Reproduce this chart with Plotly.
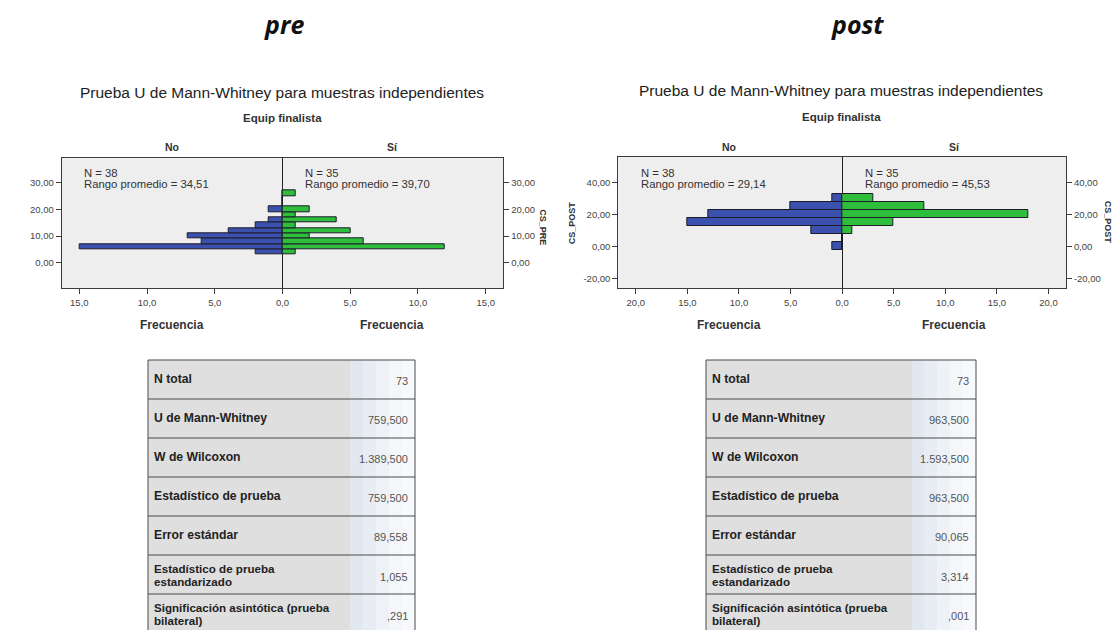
import plotly.graph_objects as go

W, H = 1115, 630

# ---------------- data ----------------
pre_bins = [4, 6, 8, 10, 12, 14, 16, 18, 20, 22, 24, 26]
pre_no = [2, 15, 6, 7, 4, 2, 1, 0, 1, 0, 0, 0]
pre_si = [1, 12, 6, 2, 5, 1, 4, 1, 2, 0, 0, 1]
pre_bin_width = 2

post_bins = [0, 5, 10, 15, 20, 25, 30]
post_no = [1, 0, 3, 15, 13, 5, 1]
post_si = [0, 0, 1, 5, 18, 8, 3]
post_bin_width = 5

group_n = ["N = 38", "N = 35"]
pre_rank = ["Rango promedio = 34,51", "Rango promedio = 39,70"]
post_rank = ["Rango promedio = 29,14", "Rango promedio = 45,53"]

pre_x_tickvals = [-15, -10, -5, 0, 5, 10, 15]
pre_x_ticktext = ["15,0", "10,0", "5,0", "0,0", "5,0", "10,0", "15,0"]
pre_y_tickvals = [0, 10, 20, 30]
pre_y_ticktext = ["0,00", "10,00", "20,00", "30,00"]
post_x_tickvals = [-20, -15, -10, -5, 0, 5, 10, 15, 20]
post_x_ticktext = ["20,0", "15,0", "10,0", "5,0", "0,0", "5,0", "10,0", "15,0", "20,0"]
post_y_tickvals = [-20, 0, 20, 40]
post_y_ticktext = ["-20,00", "0,00", "20,00", "40,00"]

table_labels = [
    "N total",
    "U de Mann-Whitney",
    "W de Wilcoxon",
    "Estadístico de prueba",
    "Error estándar",
    "Estadístico de prueba<br>estandarizado",
    "Significación asintótica (prueba<br>bilateral)",
]
pre_table_values = ["73", "759,500", "1.389,500", "759,500", "89,558", "1,055", ",291"]
post_table_values = ["73", "963,500", "1.593,500", "963,500", "90,065", "3,314", ",001"]

# ---------------- style ----------------
FONT = "Liberation Sans"
BLUE = "#3c50ad"
GREEN = "#2fbe3c"
EDGE = "#1c1c2a"
AX = "#3a3a3a"
TICKF = dict(family=FONT, size=9.5, color="#444444")


def px(x):
    return x / W


def py(y):
    return 1 - y / H


fig = go.Figure()

# pre histogram
fig.add_trace(go.Bar(orientation="h", y=pre_bins, x=[-v for v in pre_no], width=pre_bin_width,
                     marker=dict(color=BLUE, line=dict(color=EDGE, width=1)),
                     xaxis="x", yaxis="y", showlegend=False, hoverinfo="skip"))
fig.add_trace(go.Bar(orientation="h", y=pre_bins, x=pre_si, width=pre_bin_width,
                     marker=dict(color=GREEN, line=dict(color=EDGE, width=1)),
                     xaxis="x", yaxis="y", showlegend=False, hoverinfo="skip"))
fig.add_trace(go.Scatter(x=[0], y=[0], mode="markers", marker=dict(opacity=0),
                         xaxis="x", yaxis="y2", showlegend=False, hoverinfo="skip"))

# post histogram
fig.add_trace(go.Bar(orientation="h", y=post_bins, x=[-v for v in post_no], width=post_bin_width,
                     marker=dict(color=BLUE, line=dict(color=EDGE, width=1)),
                     xaxis="x2", yaxis="y3", showlegend=False, hoverinfo="skip"))
fig.add_trace(go.Bar(orientation="h", y=post_bins, x=post_si, width=post_bin_width,
                     marker=dict(color=GREEN, line=dict(color=EDGE, width=1)),
                     xaxis="x2", yaxis="y3", showlegend=False, hoverinfo="skip"))
fig.add_trace(go.Scatter(x=[0], y=[0], mode="markers", marker=dict(opacity=0),
                         xaxis="x2", yaxis="y4", showlegend=False, hoverinfo="skip"))


def xax(domain, rng, tv, tt, anchor):
    return dict(domain=domain, range=rng, tickvals=tv, ticktext=tt, ticks="outside", ticklen=5,
                tickcolor=AX, showline=True, linecolor=AX, linewidth=1, mirror=True, showgrid=False,
                zeroline=True, zerolinecolor="#222222", zerolinewidth=1, anchor=anchor,
                tickfont=TICKF, fixedrange=True)


def yax(domain, rng, tv, tt, anchor, side="left", overlaying=None):
    d = dict(range=rng, tickvals=tv, ticktext=tt, ticks="outside", ticklen=5, tickcolor=AX,
             showgrid=False, zeroline=False, anchor=anchor, side=side, tickfont=TICKF, fixedrange=True)
    if overlaying:
        d["overlaying"] = overlaying
        d["showline"] = False
    else:
        d.update(domain=domain, showline=True, linecolor=AX, linewidth=1, mirror=True)
    return d


pre_dom_x = [px(61.7), px(503.3)]
pre_dom_y = [py(288.3), py(158.3)]
post_dom_x = [px(618.3), px(1066)]
post_dom_y = [py(288.3), py(157)]
pre_yr = [-9.6, 39.15]
post_yr = [-26.2, 55.9]

fig.update_layout(
    width=W, height=H, margin=dict(l=0, r=0, t=0, b=0),
    paper_bgcolor="white", plot_bgcolor="#eeeeee",
    barmode="overlay", bargap=0,
    xaxis=xax(pre_dom_x, [-16.3, 16.3], pre_x_tickvals, pre_x_ticktext, "y"),
    yaxis=yax(pre_dom_y, pre_yr, pre_y_tickvals, pre_y_ticktext, "x"),
    yaxis2=yax(pre_dom_y, pre_yr, pre_y_tickvals, pre_y_ticktext, "x", side="right", overlaying="y"),
    xaxis2=xax(post_dom_x, [-21.7, 21.7], post_x_tickvals, post_x_ticktext, "y3"),
    yaxis3=yax(post_dom_y, post_yr, post_y_tickvals, post_y_ticktext, "x2"),
    yaxis4=yax(post_dom_y, post_yr, post_y_tickvals, post_y_ticktext, "x2", side="right", overlaying="y3"),
)

anns = []


def ann(text, x, y, size, color="#222222", xanchor="center", yanchor="middle", angle=0, family=FONT):
    anns.append(dict(text=text, x=px(x), y=py(y), xref="paper", yref="paper", showarrow=False,
                     xanchor=xanchor, yanchor=yanchor, textangle=angle, align="left",
                     font=dict(family=family, size=size, color=color)))


# big titles
ann("<b><i>pre</i></b>", 284, 24, 25, color="#111111", family="Open Sans")
ann("<b><i>post</i></b>", 857, 24, 25, color="#111111", family="Open Sans")

# chart titles
for cx, ty, sy, cols, ncx, ranks in [
    (282, 92, 118.3, (172, 392), (81.7, 303.3), pre_rank),
    (841, 90.5, 116.7, (728.5, 954), (639, 863.3), post_rank),
]:
    ann("Prueba U de Mann-Whitney para muestras independientes", cx, ty, 15.5, color="#222222")
    ann("<b>Equip finalista</b>", cx, sy, 11.5, color="#333333")
    ann("<b>No</b>", cols[0], 146.5, 10.5, color="#333333")
    ann("<b>Sí</b>", cols[1], 146.5, 10.5, color="#333333")
    ann("<b>Frecuencia</b>", cols[0], 325, 12, color="#333333")
    ann("<b>Frecuencia</b>", cols[1], 325, 12, color="#333333")
    for i in range(2):
        ann(group_n[i], ncx[i], 173, 11.3, color="#333333", xanchor="left")
        ann(ranks[i], ncx[i], 184, 11.3, color="#333333", xanchor="left")

ann("<b>CS_PRE</b>", 542.7, 227, 9, color="#333333", angle=90)
ann("<b>CS_POST</b>", 572.3, 223, 9, color="#333333", angle=-90)
ann("<b>CS_POST</b>", 1108.3, 222, 9, color="#333333", angle=90)

# tables
shapes = []
row_top = 360
row_h = 39
n_rows = len(table_labels)
for (x0, xm, x1, vals) in [(148, 350, 415, pre_table_values), (706, 912, 976, post_table_values)]:
    y_bot = row_top + n_rows * row_h
    shapes.append(dict(type="rect", xref="paper", yref="paper", x0=px(x0), x1=px(xm),
                       y0=py(y_bot), y1=py(row_top), fillcolor="#dfdfdf", line=dict(width=0), layer="below"))
    grad = ["#e2e8f0", "#e8edf4", "#eef2f7", "#f4f6fa", "#f8f9fc"]
    sw = (x1 - xm) / len(grad)
    for k, c in enumerate(grad):
        shapes.append(dict(type="rect", xref="paper", yref="paper", x0=px(xm + k * sw), x1=px(xm + (k + 1) * sw),
                           y0=py(y_bot), y1=py(row_top), fillcolor=c, line=dict(width=0), layer="below"))
    for r in range(n_rows + 1):
        yy = row_top + r * row_h
        shapes.append(dict(type="line", xref="paper", yref="paper", x0=px(x0), x1=px(x1),
                           y0=py(yy), y1=py(yy), line=dict(color="#4a4a4a", width=1)))
    for xx in (x0, x1):
        shapes.append(dict(type="line", xref="paper", yref="paper", x0=px(xx), x1=px(xx),
                           y0=py(y_bot), y1=py(row_top), line=dict(color="#4a4a4a", width=1)))
    for r in range(n_rows):
        yc = row_top + r * row_h + row_h / 2
        lines = table_labels[r].split("<br>")
        if len(lines) == 1:
            ann("<b>" + lines[0] + "</b>", x0 + 4, yc - 1, 12.2, color="#222222", xanchor="left")
        else:
            ann("<b>" + lines[0] + "</b>", x0 + 4, yc - 6.5, 11.6, color="#222222", xanchor="left")
            ann("<b>" + lines[1] + "</b>", x0 + 4, yc + 6.5, 11.6, color="#222222", xanchor="left")
        ann(vals[r], x1 - 5, yc + (1 if r < 5 else 2), 11, color="#555555", xanchor="right")

fig.update_layout(annotations=anns, shapes=shapes)
fig.write_html("out.html", config={"displayModeBar": False},
               post_script="document.body.style.margin='0';document.body.style.padding='0';"
                           "document.body.style.overflow='hidden';")
